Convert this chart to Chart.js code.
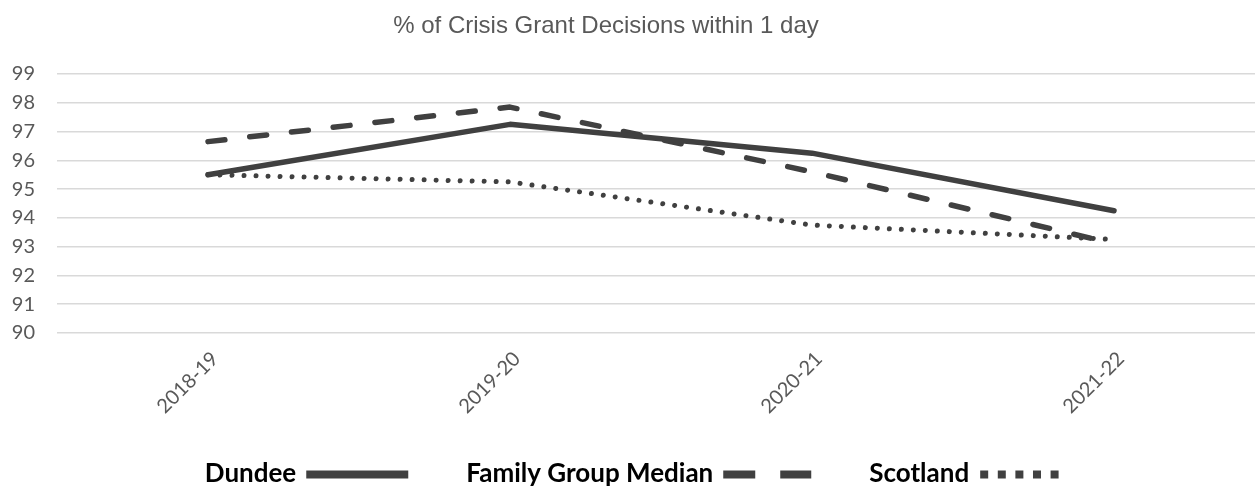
<!DOCTYPE html>
<html>
<head>
<meta charset="utf-8">
<script src="https://cdn.jsdelivr.net/npm/chart.js@4"></script>
<style>
  html, body { margin: 0; padding: 0; background: #fff; overflow: hidden; }
  #wrap { width: 1272px; height: 486px; position: relative; }
</style>
</head>
<body>
<div id="wrap"><canvas id="line-chart"></canvas></div>
<script>
var categories = ['2018-19', '2019-20', '2020-21', '2021-22'];
var dundee = [95.5, 97.25, 96.25, 94.25];
var familyGroupMedian = [96.65, 97.85, 95.6, 93.1];
var scotland = [95.5, 95.25, 93.75, 93.25];
var yMin = 90, yMax = 99;
var titleText = '% of Crisis Grant Decisions within 1 day';

var lineColor = '#404040';

// legend entries: label + how the sample is drawn
var legendItems = [
  { label: 'Dundee', sample: 'solid' },
  { label: 'Family Group Median', sample: 'dash' },
  { label: 'Scotland', sample: 'dot' }
];

// title and bottom legend drawn by hand, Excel style
var titleLegendPlugin = {
  id: 'titleLegend',
  afterDraw: function(chart) {
    var ctx = chart.ctx;
    ctx.save();
    ctx.fillStyle = '#595959';
    ctx.font = '24px "Liberation Sans", Arial, sans-serif';
    ctx.textAlign = 'center';
    ctx.textBaseline = 'middle';
    ctx.fillText(titleText, 606, 26);

    ctx.font = 'bold 26px Lato, sans-serif';
    ctx.textAlign = 'left';
    ctx.textBaseline = 'alphabetic';
    var sampleW = { solid: 102, dash: 88, dot: 88 };
    var gapText = 10, gapItem = 58;
    var total = 0;
    legendItems.forEach(function(it, i) {
      total += ctx.measureText(it.label).width + gapText + sampleW[it.sample];
      if (i > 0) total += gapItem;
    });
    var x = (chart.width - total) / 2;
    var yText = 482, yLine = 474.5;
    legendItems.forEach(function(it) {
      ctx.fillStyle = '#000';
      ctx.fillText(it.label, x, yText);
      x += ctx.measureText(it.label).width + gapText;
      ctx.fillStyle = lineColor;
      var w = sampleW[it.sample];
      if (it.sample === 'solid') {
        ctx.fillRect(x, yLine - 4, w, 8);
      } else if (it.sample === 'dash') {
        ctx.fillRect(x, yLine - 4, 32, 8);
        ctx.fillRect(x + 57, yLine - 4, 31, 8);
      } else {
        for (var k = 0; k < 5; k++) {
          ctx.fillRect(x + k * 17.6 + 1, yLine - 4, 8, 8);
        }
      }
      x += w + gapItem;
    });
    ctx.restore();
  }
};

var ctx = document.getElementById('line-chart');
var myLineChart = new Chart(ctx, {
  type: 'line',
  data: {
    labels: categories,
    datasets: [{
      label: 'Dundee',
      data: dundee,
      borderColor: lineColor,
      borderWidth: 5.5,
      borderCapStyle: 'round',
      borderJoinStyle: 'round'
    }, {
      label: 'Family Group Median',
      data: familyGroupMedian,
      borderColor: lineColor,
      borderWidth: 5.5,
      borderDash: [17, 25],
      borderCapStyle: 'round',
      borderJoinStyle: 'round'
    }, {
      label: 'Scotland',
      data: scotland,
      borderColor: lineColor,
      borderWidth: 5,
      borderDash: [0.01, 12],
      borderCapStyle: 'round',
      borderJoinStyle: 'round'
    }]
  },
  options: {
    responsive: true,
    maintainAspectRatio: false,
    animation: false,
    elements: {
      point: { radius: 0, hoverRadius: 0 },
      line: { tension: 0, fill: false }
    },
    layout: {
      padding: { top: 74, left: 12, right: 7, bottom: 53 }
    },
    plugins: {
      legend: { display: false },
      title: { display: false },
      tooltip: { enabled: false }
    },
    scales: {
      x: {
        offset: true,
        grid: { display: false, drawTicks: false },
        border: { display: false },
        ticks: {
          minRotation: 45,
          maxRotation: 45,
          padding: 14,
          labelOffset: 7,
          color: '#595959',
          font: { family: 'Lato', size: 20 }
        },
        afterFit: function(scale) { scale.height = 100; }
      },
      y: {
        min: yMin,
        max: yMax,
        grid: { color: '#d9d9d9', lineWidth: 1.5, drawTicks: false },
        border: { display: false },
        ticks: {
          stepSize: 1,
          padding: 22,
          color: '#595959',
          font: { family: 'Lato', size: 20 }
        },
        afterFit: function(scale) { scale.width = 45; }
      }
    }
  },
  plugins: [titleLegendPlugin]
});
</script>
</body>
</html>
